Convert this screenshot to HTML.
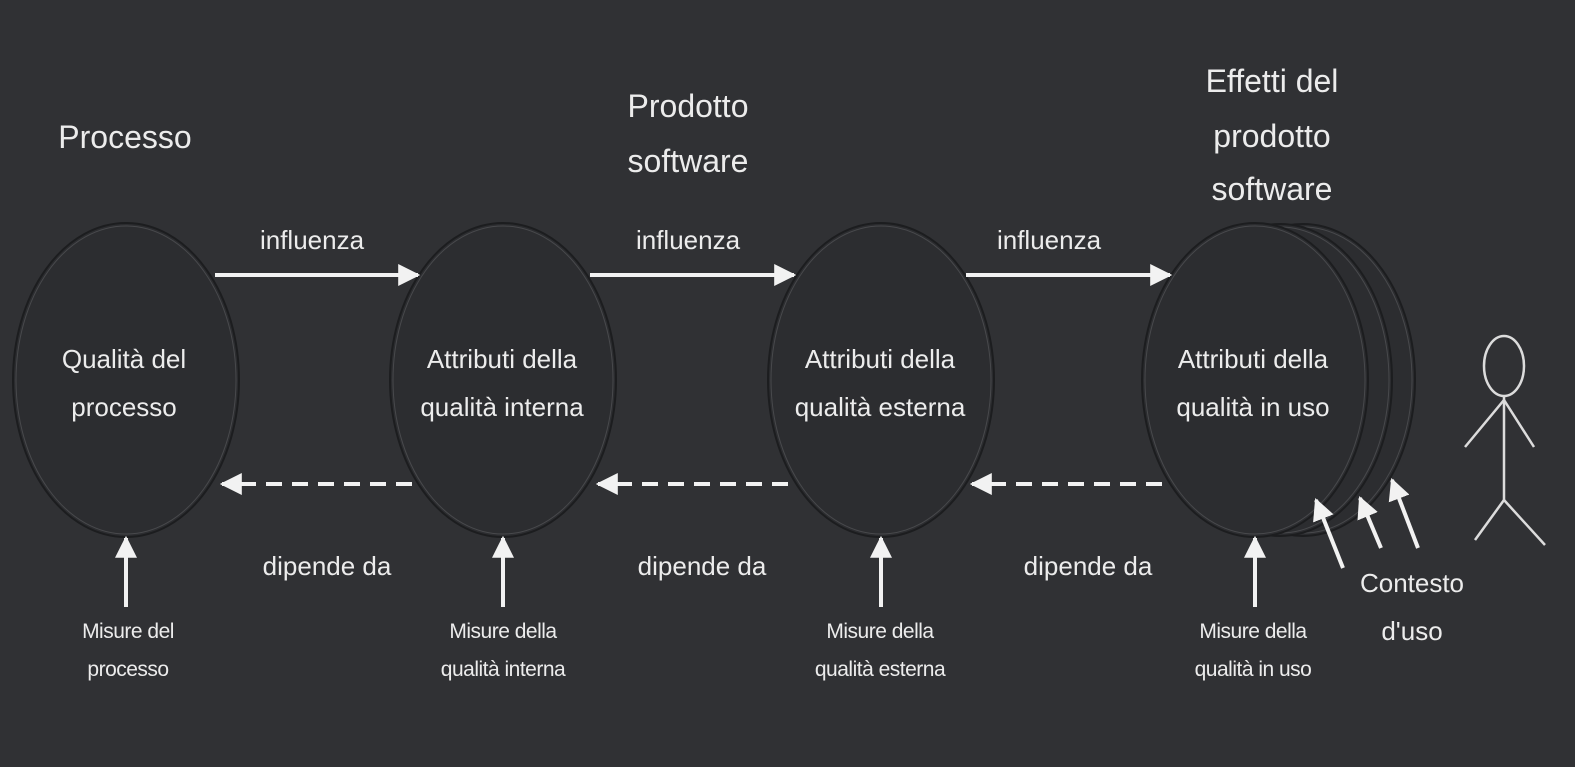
<!DOCTYPE html>
<html><head><meta charset="utf-8"><style>
html,body{margin:0;padding:0;background:#303134;}
svg{display:block}
text{font-family:"Liberation Sans",sans-serif;fill:#ececec;text-anchor:middle}
</style></head><body>
<svg width="1575" height="767" viewBox="0 0 1575 767" xmlns="http://www.w3.org/2000/svg">
<defs>
<marker id="ah" viewBox="0 0 10 10" refX="9" refY="5" markerWidth="5.5" markerHeight="5.5" orient="auto" markerUnits="strokeWidth"><path d="M0,0 L10,5 L0,10 z" fill="#f2f2f2"/></marker>
</defs>
<rect width="1575" height="767" fill="#303134"/>
<g stroke="#1c1d1f" stroke-width="2" fill="#2c2d30">
<ellipse cx="1303" cy="380" rx="112" ry="156"/>
</g>
<ellipse cx="1303" cy="380" rx="109" ry="153" stroke="#48494c" fill="none"/>
<ellipse cx="1280" cy="380" rx="112" ry="156" stroke="#1c1d1f" stroke-width="2" fill="#2c2d30"/>
<ellipse cx="1280" cy="380" rx="109" ry="153" stroke="#48494c" fill="none"/>
<g stroke="#1c1d1f" stroke-width="2" fill="#2c2d30">
<ellipse cx="126" cy="380" rx="113" ry="157"/>
<ellipse cx="503" cy="380" rx="113" ry="157"/>
<ellipse cx="881" cy="380" rx="113" ry="157"/>
<ellipse cx="1255" cy="380" rx="113" ry="157"/>
</g>
<g stroke="#48494c" stroke-width="1" fill="none">
<ellipse cx="126" cy="380" rx="110" ry="154"/>
<ellipse cx="503" cy="380" rx="110" ry="154"/>
<ellipse cx="881" cy="380" rx="110" ry="154"/>
<ellipse cx="1255" cy="380" rx="110" ry="154"/>
</g>
<g stroke="#f2f2f2" stroke-width="4" fill="none" marker-end="url(#ah)">
<line x1="215" y1="275" x2="418" y2="275"/>
<line x1="590" y1="275" x2="794" y2="275"/>
<line x1="966" y1="275" x2="1170" y2="275"/>
<line x1="412" y1="484" x2="222" y2="484" stroke-dasharray="16,10"/>
<line x1="788" y1="484" x2="598" y2="484" stroke-dasharray="16,10"/>
<line x1="1162" y1="484" x2="972" y2="484" stroke-dasharray="16,10"/>
<line x1="126" y1="607" x2="126" y2="538"/>
<line x1="503" y1="607" x2="503" y2="538"/>
<line x1="881" y1="607" x2="881" y2="538"/>
<line x1="1255" y1="607" x2="1255" y2="538"/>
<line x1="1343" y1="568" x2="1316" y2="500"/>
<line x1="1381" y1="548" x2="1360" y2="498"/>
<line x1="1418" y1="548" x2="1392" y2="480"/>
</g>
<g stroke="#dcdcdc" stroke-width="2.5" fill="none">
<ellipse cx="1504" cy="366" rx="20" ry="30"/>
<line x1="1504" y1="396" x2="1504" y2="500"/>
<polyline points="1465,447 1504,400 1534,447"/>
<polyline points="1475,540 1504,500 1545,545"/>
</g>
<g font-size="32">
<text x="125" y="148">Processo</text>
<text x="688" y="117">Prodotto</text>
<text x="688" y="172">software</text>
<text x="1272" y="92">Effetti del</text>
<text x="1272" y="147">prodotto</text>
<text x="1272" y="200">software</text>
</g>
<g font-size="26">
<text x="312" y="249">influenza</text>
<text x="688" y="249">influenza</text>
<text x="1049" y="249">influenza</text>
<text x="327" y="575">dipende da</text>
<text x="702" y="575">dipende da</text>
<text x="1088" y="575">dipende da</text>
<text x="124" y="368">Qualità del</text>
<text x="124" y="416">processo</text>
<text x="502" y="368">Attributi della</text>
<text x="502" y="416">qualità interna</text>
<text x="880" y="368">Attributi della</text>
<text x="880" y="416">qualità esterna</text>
<text x="1253" y="368">Attributi della</text>
<text x="1253" y="416">qualità in uso</text>
<text x="1412" y="592">Contesto</text>
<text x="1412" y="640">d'uso</text>
</g>
<g font-size="21" letter-spacing="-0.5">
<text x="128" y="638">Misure del</text>
<text x="128" y="676">processo</text>
<text x="503" y="638">Misure della</text>
<text x="503" y="676">qualità interna</text>
<text x="880" y="638">Misure della</text>
<text x="880" y="676">qualità esterna</text>
<text x="1253" y="638">Misure della</text>
<text x="1253" y="676">qualità in uso</text>
</g>
</svg>
</body></html>
